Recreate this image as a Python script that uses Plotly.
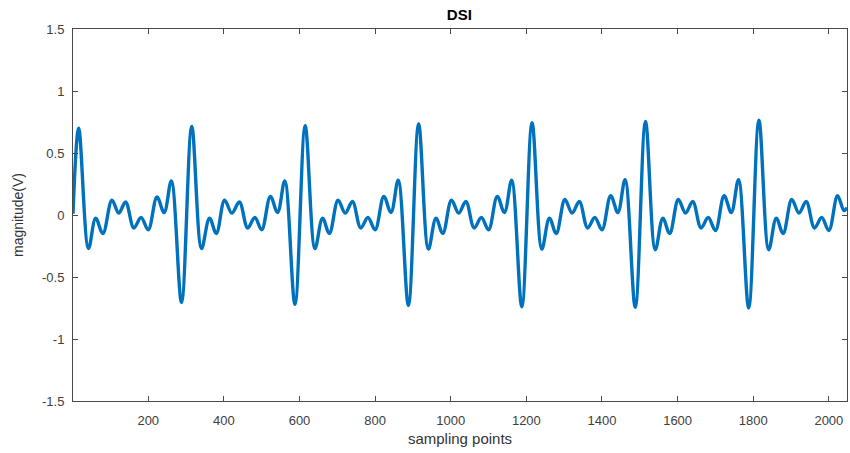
import plotly.graph_objects as go

# Extrema / key points (sample index, magnitude in V)
sample_idx = [
    1, 16, 42, 61, 80, 104, 122, 140, 162, 181, 200, 223, 242, 261, 288,
    315, 341, 362, 380, 402, 421, 441, 463, 482, 500, 523, 542, 561, 588,
    615, 641, 661, 679, 702, 721, 740, 762, 781, 800, 823, 842, 861, 888,
    915, 941, 961, 979, 1002, 1021, 1040, 1062, 1081, 1100, 1123, 1142, 1161, 1188,
    1215, 1241, 1261, 1279, 1302, 1321, 1340, 1362, 1381, 1400, 1423, 1442, 1461, 1488,
    1515, 1541, 1561, 1579, 1602, 1621, 1640, 1662, 1681, 1700, 1723, 1742, 1761, 1788,
    1815, 1841, 1861, 1879, 1902, 1921, 1940, 1962, 1981, 2000, 2023, 2040, 2048,
]
magnitude = [
    0.01, 0.70, -0.27, -0.025, -0.15, 0.12, 0.015, 0.105, -0.105, -0.02, -0.12, 0.145, 0.02, 0.275, -0.705,
    0.715, -0.27, -0.025, -0.15, 0.12, 0.015, 0.105, -0.105, -0.02, -0.12, 0.15, 0.02, 0.275, -0.72,
    0.72, -0.27, -0.025, -0.15, 0.12, 0.015, 0.11, -0.105, -0.02, -0.12, 0.15, 0.02, 0.28, -0.73,
    0.735, -0.275, -0.025, -0.15, 0.12, 0.015, 0.11, -0.105, -0.02, -0.12, 0.15, 0.02, 0.28, -0.74,
    0.745, -0.275, -0.025, -0.15, 0.125, 0.015, 0.11, -0.105, -0.02, -0.12, 0.155, 0.02, 0.285, -0.745,
    0.755, -0.28, -0.025, -0.15, 0.125, 0.015, 0.11, -0.105, -0.02, -0.125, 0.155, 0.02, 0.285, -0.75,
    0.765, -0.28, -0.025, -0.15, 0.125, 0.015, 0.11, -0.105, -0.02, -0.125, 0.155, 0.035, 0.06,
]

x_ticks = [200, 400, 600, 800, 1000, 1200, 1400, 1600, 1800, 2000]
y_ticks = [-1.5, -1, -0.5, 0, 0.5, 1, 1.5]
y_tick_text = ["-1.5", "-1", "-0.5", "0", "0.5", "1", "1.5"]

fig = go.Figure()
fig.add_trace(go.Scatter(
    x=sample_idx, y=magnitude, mode="lines",
    line=dict(color="#0072BD", width=3.4, shape="spline", smoothing=1),
    showlegend=False,
))

axis_color = "#4a4a4a"
font_family = "Liberation Sans, Arial, sans-serif"

fig.update_layout(
    width=850, height=453,
    margin=dict(l=73, r=3, t=29, b=52),
    paper_bgcolor="white", plot_bgcolor="white",
    font=dict(family=font_family, color="#404040", size=13),
    title=dict(text="<b>DSI</b>", x=0.5404, xanchor="center", y=0.967, yanchor="middle",
               font=dict(size=15, color="#000000", family=font_family)),
)
fig.update_xaxes(
    range=[1, 2048], tickvals=x_ticks, ticktext=[str(v) for v in x_ticks],
    ticks="inside", ticklen=5, tickcolor=axis_color, tickwidth=1,
    showline=True, linecolor=axis_color, linewidth=1, mirror="ticks",
    showgrid=False, zeroline=False, ticklabelstandoff=7,
    title=dict(text="sampling points", font=dict(size=15, color="#333333"), standoff=6),
)
fig.update_yaxes(
    range=[-1.5, 1.5], tickvals=y_ticks, ticktext=y_tick_text,
    ticks="inside", ticklen=5, tickcolor=axis_color, tickwidth=1,
    showline=True, linecolor=axis_color, linewidth=1, mirror="ticks",
    showgrid=False, zeroline=False, ticklabelstandoff=5,
    title=dict(text="magnitude(V)", font=dict(size=14, color="#333333"), standoff=15),
)

fig.write_html("out.html")
